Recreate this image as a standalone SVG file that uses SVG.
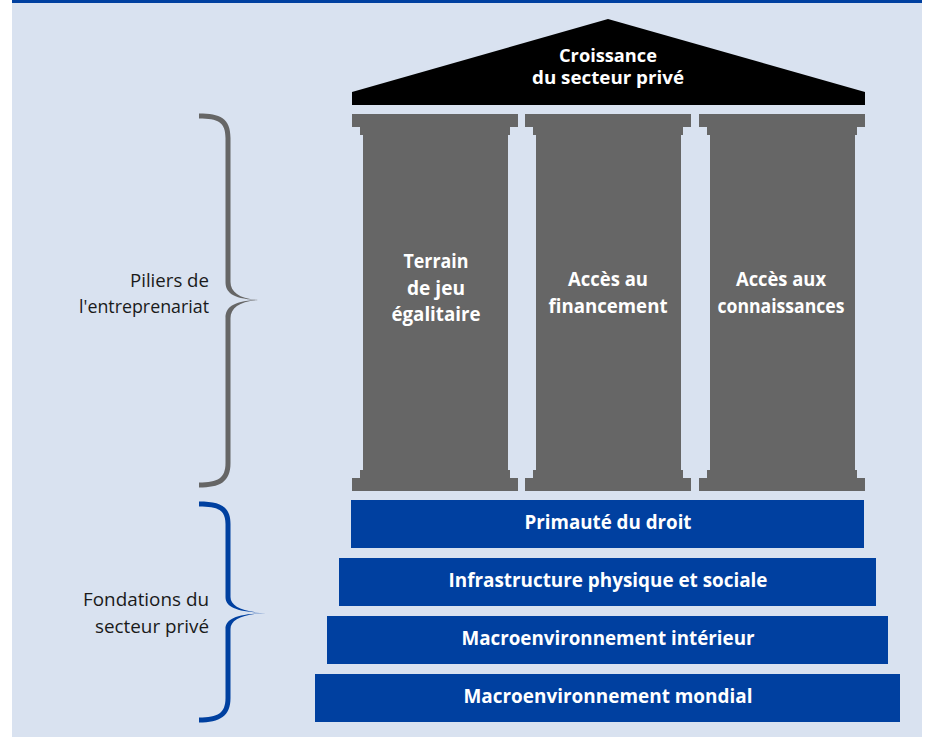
<svg xmlns="http://www.w3.org/2000/svg" width="927" height="742" viewBox="0 0 927 742">
  <style>
    .bg { fill: #d9e2f0; }
    .roof { fill: #000000; }
    .pillar { fill: #666666; }
    .bar { fill: #0040a0; }
    .head { font-family: "Open Sans", "Liberation Sans", sans-serif; font-weight: bold; font-size: 19px; fill: #ffffff; text-anchor: middle; }
    .roof-text { font-size: 18px; }
    .side { font-family: "Open Sans", "Liberation Sans", sans-serif; font-size: 18px; fill: #1a1a1a; text-anchor: end; }
  </style>
  <defs>
    <!-- one column: capital, steps, shaft, base -->
    <g id="column">
      <rect class="pillar" x="0" y="114" width="166" height="13"/>
      <rect class="pillar" x="8" y="127" width="150" height="8"/>
      <rect class="pillar" x="11" y="135" width="145" height="335"/>
      <rect class="pillar" x="8" y="470" width="150" height="8"/>
      <rect class="pillar" x="0" y="478" width="166" height="13"/>
    </g>
  </defs>

  <!-- panel -->
  <rect class="bg" x="12" y="0" width="910" height="737"/>
  <rect x="12" y="0" width="910" height="3" fill="#0040a0"/>

  <!-- roof -->
  <g id="roof">
    <polygon class="roof" points="352,92 608,19 865,92 865,105 352,105"/>
    <text class="head roof-text" x="608" y="62" textLength="98" lengthAdjust="spacingAndGlyphs">Croissance</text>
    <text class="head roof-text" x="608" y="84" textLength="152" lengthAdjust="spacingAndGlyphs">du secteur privé</text>
  </g>

  <!-- columns -->
  <g id="pillar-terrain">
    <use href="#column" x="352"/>
    <text class="head" x="436" y="268" textLength="65" lengthAdjust="spacingAndGlyphs">Terrain</text>
    <text class="head" x="436" y="295" textLength="58" lengthAdjust="spacingAndGlyphs">de jeu</text>
    <text class="head" x="436" y="321" textLength="89" lengthAdjust="spacingAndGlyphs">égalitaire</text>
  </g>
  <g id="pillar-financement">
    <use href="#column" x="525"/>
    <text class="head" x="608" y="286" textLength="80" lengthAdjust="spacingAndGlyphs">Accès au</text>
    <text class="head" x="608" y="313" textLength="119" lengthAdjust="spacingAndGlyphs">financement</text>
  </g>
  <g id="pillar-connaissances">
    <use href="#column" x="699"/>
    <text class="head" x="781" y="286" textLength="90" lengthAdjust="spacingAndGlyphs">Accès aux</text>
    <text class="head" x="781" y="313" textLength="127" lengthAdjust="spacingAndGlyphs">connaissances</text>
  </g>

  <!-- foundation steps -->
  <g id="step-droit">
    <rect class="bar" x="351" y="500" width="513" height="48"/>
    <text class="head" x="608" y="529" textLength="167" lengthAdjust="spacingAndGlyphs">Primauté du droit</text>
  </g>
  <g id="step-infrastructure">
    <rect class="bar" x="339" y="558" width="537" height="48"/>
    <text class="head" x="608" y="587" textLength="319" lengthAdjust="spacingAndGlyphs">Infrastructure physique et sociale</text>
  </g>
  <g id="step-interieur">
    <rect class="bar" x="327" y="616" width="561" height="48"/>
    <text class="head" x="608" y="645" textLength="293" lengthAdjust="spacingAndGlyphs">Macroenvironnement intérieur</text>
  </g>
  <g id="step-mondial">
    <rect class="bar" x="315" y="674" width="585" height="48"/>
    <text class="head" x="608" y="703" textLength="289" lengthAdjust="spacingAndGlyphs">Macroenvironnement mondial</text>
  </g>

  <!-- side labels -->
  <g id="label-piliers">
    <text class="side" x="209" y="287" textLength="79" lengthAdjust="spacingAndGlyphs">Piliers de</text>
    <text class="side" x="209" y="313" textLength="130" lengthAdjust="spacingAndGlyphs">l'entreprenariat</text>
  </g>
  <g id="label-fondations">
    <text class="side" x="209" y="606" textLength="126" lengthAdjust="spacingAndGlyphs">Fondations du</text>
    <text class="side" x="209" y="633" textLength="114" lengthAdjust="spacingAndGlyphs">secteur privé</text>
  </g>

  <!-- braces -->
  <g id="connectors">
    <path fill="#666666" d="M199,113.5 C220,113.5 230.5,118 230.5,138 L230.5,282 C230.5,292 240,299 258,300 C240,301 230.5,308 230.5,318 L230.5,463 C230.5,482 220,487.5 199,487.5 L199,482.5 C218,482.5 225.5,478 225.5,463 L225.5,318 C225.5,308 232,301 258,300 C232,299 225.5,292 225.5,282 L225.5,138 C225.5,122 218,118.5 199,118.5 Z"/>
    <path fill="#0040a0" d="M199,501.5 C220,501.5 230.5,506 230.5,524 L230.5,597 C230.5,606 242,612 266,613 C242,614 230.5,620 230.5,629 L230.5,698 C230.5,716 220,722.5 199,722.5 L199,717.5 C218,717.5 225.5,713 225.5,698 L225.5,629 C225.5,620 234,614 266,613 C234,612 225.5,606 225.5,597 L225.5,524 C225.5,510 218,506.5 199,506.5 Z"/>
  </g>
</svg>
